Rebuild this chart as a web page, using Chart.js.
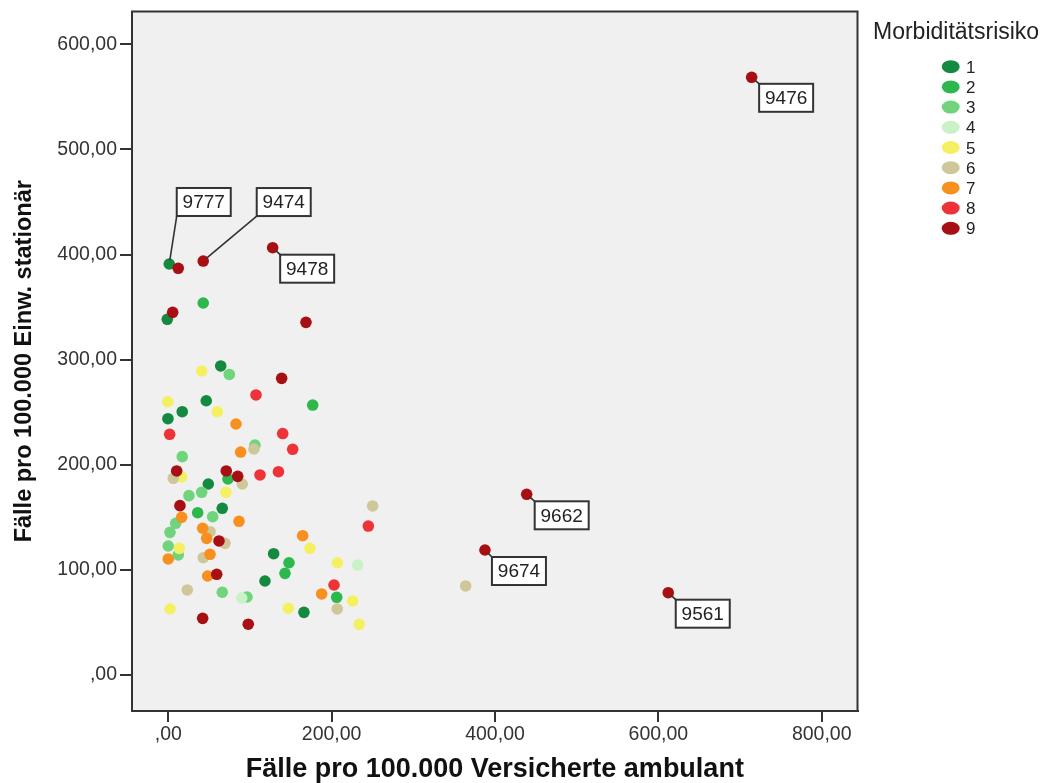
<!DOCTYPE html>
<html lang="de">
<head>
  <meta charset="UTF-8">
  <title>Fälle ambulant vs. stationär nach Morbiditätsrisiko</title>
  <script src="https://cdn.jsdelivr.net/npm/chart.js"></script>
  <style>
    html, body {
      margin: 0;
      padding: 0;
      background: #fff;
    }
    .wrap {
      position: relative;
      width: 1051px;
      height: 783px;
    }
  </style>
</head>
<body>
  <div class="wrap">
    <canvas id="scatter"></canvas>
  </div>

  <script>
    // categories (Morbiditätsrisiko) and their colours
    const categories = ['1', '2', '3', '4', '5', '6', '7', '8', '9'];
    const catColors = ['#138a3f', '#2db84d', '#6fd47c', '#c9f2c7', '#f5f062', '#cdc79a', '#f7901e', '#ee3338', '#a80f13'];

    // x = Fälle pro 100.000 Versicherte ambulant, y = Fälle pro 100.000 Einw. stationär
    const xRisk1 = [1.2, -1.2, 64.2, 46.5, 17.1, -0.4, 49.0, 66.1, 129.0, 118.4, 166.1];
    const yRisk1 = [391.0, 338.4, 294.0, 260.9, 250.5, 243.8, 181.7, 158.6, 115.4, 89.4, 59.6];

    const xRisk2 = [42.8, 176.8, 73.1, 36.0, 147.8, 142.9, 206.2];
    const yRisk2 = [353.9, 256.8, 186.5, 154.4, 106.8, 96.7, 73.9];

    const xRisk3 = [74.7, 17.1, 106.1, 40.9, 25.3, 54.4, 9.1, 2.1, 0.0, 12.2, 66.1, 96.4];
    const yRisk3 = [285.9, 207.7, 218.8, 173.8, 170.6, 150.6, 144.3, 135.7, 122.7, 114.2, 78.7, 74.2];

    const xRisk4 = [89.9, 231.9];
    const yRisk4 = [73.2, 104.6];

    const xRisk5 = [40.9, -0.7, 60.0, 16.4, 70.6, 13.5, 2.1, 173.5, 206.9, 225.8, 146.9, 233.8];
    const yRisk5 = [289.2, 260.0, 250.5, 188.4, 173.8, 120.5, 62.8, 120.5, 106.8, 70.4, 63.5, 48.2];

    const xRisk6 = [104.9, 6.1, 90.6, 51.1, 69.4, 42.8, 23.3, 250.2, 206.9, 364.1];
    const yRisk6 = [215.0, 187.1, 181.7, 136.3, 125.3, 111.6, 80.9, 160.8, 62.8, 84.7];

    const xRisk7 = [82.9, 88.6, 16.4, 86.6, 42.1, 47.0, 0.0, 51.1, 48.2, 164.5, 187.8];
    const yRisk7 = [238.8, 212.1, 150.0, 146.2, 139.6, 130.0, 110.4, 114.8, 94.2, 132.5, 77.1];

    const xRisk8 = [107.4, 1.7, 140.1, 152.3, 112.3, 134.9, 244.9, 202.9];
    const yRisk8 = [266.4, 229.0, 229.7, 214.7, 190.3, 193.4, 141.7, 85.6];

    const xRisk9 = [714.2, 12.2, 42.8, 127.8, 5.4, 168.6, 138.8, 10.3, 71.0, 85.0, 14.3, 62.1, 59.3, 42.1, 97.9, 438.8, 387.7, 612.1];
    const yRisk9 = [568.6, 386.9, 393.8, 406.5, 345.0, 335.5, 282.2, 194.1, 194.1, 189.0, 161.1, 127.5, 95.8, 53.9, 48.3, 171.9, 118.9, 78.3];

    // labelled cases
    const caseIds = ['9777', '9474', '9478', '9476', '9662', '9674', '9561'];
    const caseX = [1.2, 42.8, 127.8, 714.2, 438.8, 387.7, 612.1];
    const caseY = [391.0, 393.8, 406.5, 568.6, 171.9, 118.9, 78.3];

    // tick values and labels
    const xTicks = [0, 200, 400, 600, 800];
    const xTickLabels = [',00', '200,00', '400,00', '600,00', '800,00'];
    const yTicks = [0, 100, 200, 300, 400, 500, 600];
    const yTickLabels = [',00', '100,00', '200,00', '300,00', '400,00', '500,00', '600,00'];

    const xSeries = [xRisk1, xRisk2, xRisk3, xRisk4, xRisk5, xRisk6, xRisk7, xRisk8, xRisk9];
    const ySeries = [yRisk1, yRisk2, yRisk3, yRisk4, yRisk5, yRisk6, yRisk7, yRisk8, yRisk9];

    const FONT = '"Liberation Sans", Arial, sans-serif';
    const INK = '#333';

    // box offsets (px) of the case labels relative to their point
    const boxOffsets = {
      '9777': [7.5, -76],
      '9474': [53.5, -73],
      '9478': [7.5, 7],
      '9476': [7.5, 6.5],
      '9662': [8, 7],
      '9674': [7, 7],
      '9561': [7.5, 7]
    };

    const datasets = categories.map((c, i) => ({
      label: c,
      data: xSeries[i].map((x, j) => ({ x: x, y: ySeries[i][j] })),
      backgroundColor: catColors[i],
      borderColor: catColors[i],
      borderWidth: 0,
      pointRadius: 5.8,
      pointHoverRadius: 5.8,
      order: categories.length - i
    }));

    const decor = {
      id: 'decor',
      beforeDraw(chart) {
        const { ctx, chartArea: a } = chart;
        ctx.save();
        ctx.fillStyle = '#fff';
        ctx.fillRect(0, 0, chart.width, chart.height);
        ctx.fillStyle = '#f0f0f0';
        ctx.fillRect(a.left, a.top, a.right - a.left, a.bottom - a.top);
        ctx.restore();
      },
      afterDatasetsDraw(chart) {
        const { ctx, chartArea: a, scales } = chart;
        ctx.save();

        // case labels
        caseIds.forEach((id, i) => {
          const px = scales.x.getPixelForValue(caseX[i]);
          const py = scales.y.getPixelForValue(caseY[i]);
          const [dx, dy] = boxOffsets[id];
          const w = 54, h = 28;
          const bx = px + dx, by = py + dy;
          // leader line to nearest corner
          const cx = bx;
          const cy = dy < 0 ? by + h : by;
          const len = Math.hypot(cx - px, cy - py);
          ctx.strokeStyle = INK;
          ctx.lineWidth = 1.6;
          ctx.beginPath();
          ctx.moveTo(px + (cx - px) / len * 4, py + (cy - py) / len * 4);
          ctx.lineTo(cx, cy);
          ctx.stroke();
          ctx.fillStyle = '#fff';
          ctx.fillRect(bx, by, w, h);
          ctx.lineWidth = 2;
          ctx.strokeRect(bx, by, w, h);
          ctx.fillStyle = '#222';
          ctx.font = '19px ' + FONT;
          ctx.textAlign = 'center';
          ctx.textBaseline = 'middle';
          ctx.fillText(id, bx + w / 2, by + h / 2 + 1);
        });

        // frame around plot
        ctx.strokeStyle = INK;
        ctx.lineWidth = 2;
        ctx.strokeRect(a.left, a.top, a.right - a.left, a.bottom - a.top);

        // legend
        ctx.fillStyle = '#222';
        ctx.font = '23px ' + FONT;
        ctx.textAlign = 'left';
        ctx.textBaseline = 'alphabetic';
        ctx.fillText('Morbiditätsrisiko', 873, 38.5);
        ctx.font = '17px ' + FONT;
        categories.forEach((c, i) => {
          const cy = 66.7 + i * 20.2;
          ctx.fillStyle = catColors[i];
          ctx.beginPath();
          ctx.ellipse(950.7, cy, 9, 6.5, 0, 0, Math.PI * 2);
          ctx.fill();
          ctx.fillStyle = '#222';
          ctx.fillText(c, 966, cy + 6);
        });
        ctx.restore();
      }
    };

    new Chart(document.getElementById('scatter'), {
      type: 'scatter',
      data: { datasets: datasets },
      options: {
        responsive: true,
        maintainAspectRatio: false,
        animation: false,
        devicePixelRatio: 1,
        layout: { padding: { top: 11.5, right: 193.5, bottom: 0, left: 0 } },
        plugins: {
          legend: { display: false },
          tooltip: { enabled: false }
        },
        scales: {
          x: {
            type: 'linear',
            min: -44.4,
            max: 843.8,
            afterBuildTicks: s => { s.ticks = xTicks.map(v => ({ value: v })); },
            afterFit: s => { s.height = 72; s.paddingLeft = 0; s.paddingRight = 0; },
            ticks: {
              padding: 1,
              color: INK,
              font: { family: FONT, size: 19.5 },
              maxRotation: 0,
              callback: v => xTickLabels[xTicks.indexOf(v)]
            },
            grid: { drawOnChartArea: false, tickLength: 11, color: INK, lineWidth: 2 },
            border: { display: true, color: INK, width: 2 },
            title: {
              display: true,
              text: 'Fälle pro 100.000 Versicherte ambulant',
              color: '#111',
              font: { family: FONT, size: 27, weight: 'bold', lineHeight: 1 },
              padding: { top: 0, bottom: 0 }
            }
          },
          y: {
            type: 'linear',
            min: -34.25,
            max: 631.2,
            afterBuildTicks: s => { s.ticks = yTicks.map(v => ({ value: v })); },
            afterFit: s => { s.width = 132; s.paddingTop = 0; s.paddingBottom = 0; },
            ticks: {
              padding: 3,
              color: INK,
              font: { family: FONT, size: 19.5 },
              callback: v => yTickLabels[yTicks.indexOf(v)]
            },
            grid: { drawOnChartArea: false, tickLength: 12, color: INK, lineWidth: 2 },
            border: { display: true, color: INK, width: 2 },
            title: {
              display: true,
              text: 'Fälle pro 100.000 Einw. stationär',
              color: '#111',
              font: { family: FONT, size: 23.5, weight: 'bold', lineHeight: 1 },
              padding: { top: 12.5, bottom: 0 }
            }
          }
        }
      },
      plugins: [decor]
    });
  </script>
</body>
</html>
